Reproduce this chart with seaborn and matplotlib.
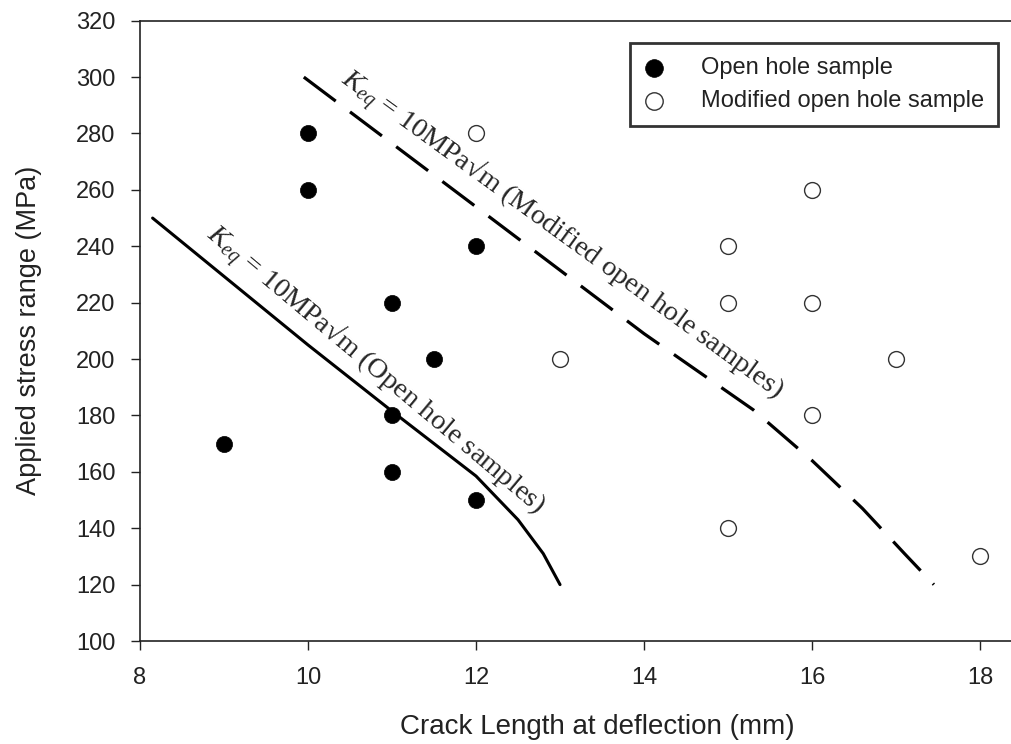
import matplotlib
matplotlib.use("Agg")
import matplotlib.pyplot as plt
import seaborn as sns
import pandas as pd

# ---- data ----
open_x = [9, 10, 10, 11, 11, 11, 11.5, 12, 12]
open_y = [170, 280, 260, 220, 180, 160, 200, 240, 150]
mod_x = [12, 13, 15, 15, 15, 16, 16, 16, 17, 18]
mod_y = [280, 200, 240, 220, 140, 260, 220, 180, 200, 130]

curve_open_x = [8.15, 10.0, 11.0, 11.5, 12.0, 12.5, 12.8, 13.0]
curve_open_y = [250, 205, 181.5, 170, 158.5, 143, 131, 120]
curve_mod_x = [9.95, 12.0, 14.0, 15.3, 16.0, 16.6, 17.1, 17.45]
curve_mod_y = [300, 254, 209, 182, 164, 147, 131, 120]

x_ticks = [8, 10, 12, 14, 16, 18]
y_ticks = list(range(100, 321, 20))

label_open = "Open hole sample"
label_mod = "Modified open hole sample"
text_open = r"$K_{eq}$ = 10MPa√m (Open hole samples)"
text_mod = r"$K_{eq}$ = 10MPa√m (Modified open hole samples)"

# ---- style ----
sns.set_theme(style="ticks")
plt.rcParams["font.family"] = ["Liberation Sans", "DejaVu Sans"]
plt.rcParams["mathtext.fontset"] = "custom"
plt.rcParams["mathtext.rm"] = "Liberation Serif"
plt.rcParams["mathtext.it"] = "Liberation Serif:italic"

fig = plt.figure(figsize=(10.12, 7.44), dpi=100)
ax = fig.add_axes([140 / 1012, 1 - 641 / 744, 1 - 140 / 1012, (641 - 20.7) / 744])

df_open = pd.DataFrame({"x": open_x, "y": open_y})
df_mod = pd.DataFrame({"x": mod_x, "y": mod_y})
df_c1 = pd.DataFrame({"x": curve_open_x, "y": curve_open_y})
df_c2 = pd.DataFrame({"x": curve_mod_x, "y": curve_mod_y})

sns.lineplot(data=df_c1, x="x", y="y", ax=ax, color="black", linewidth=2.2,
             sort=False, estimator=None)
sns.lineplot(data=df_c2, x="x", y="y", ax=ax, color="black", linewidth=2.3,
             sort=False, estimator=None, linestyle=(0, (12.5, 5.6)))

sns.scatterplot(data=df_open, x="x", y="y", ax=ax, color="black", s=135,
                edgecolor="black", linewidth=0.5, label=label_open, zorder=3)
sns.scatterplot(data=df_mod, x="x", y="y", ax=ax, facecolor="white", s=130,
                edgecolor="#333333", linewidth=1.0, label=label_mod, zorder=3)

ax.set_xlim(8, 18.38)
ax.set_ylim(100, 320)
ax.set_xticks(x_ticks)
ax.set_yticks(y_ticks)
ax.tick_params(axis="both", direction="out", length=6.5, width=1.0,
               colors="#222222", labelsize=17)
ax.tick_params(axis="x", pad=12)
ax.tick_params(axis="y", pad=11)
for side in ["left", "bottom", "top"]:
    ax.spines[side].set_color("#222222")
    ax.spines[side].set_linewidth(1.2)
ax.spines["right"].set_visible(False)

ax.set_xlabel("Crack Length at deflection (mm)", fontsize=20, color="#222222")
ax.set_ylabel("Applied stress range (MPa)", fontsize=19.5, color="#222222")
ax.xaxis.set_label_coords(0.524, -0.118)
ax.yaxis.set_label_coords(-0.112, 0.5)

ax.text(10.80, 196, text_open, rotation=-40, rotation_mode="anchor",
        ha="center", va="center", fontsize=20.5, family="Liberation Serif")
ax.text(13.03, 244, text_mod, rotation=-36, rotation_mode="anchor",
        ha="center", va="center", fontsize=20.5, family="Liberation Serif")

leg = ax.legend(loc="upper right", bbox_to_anchor=(0.984, 0.964),
                borderaxespad=0, fontsize=17, frameon=True, fancybox=False,
                handletextpad=1.6, labelspacing=0.45, borderpad=0.6,
                handlelength=0.8, markerscale=1.1)
leg.get_frame().set_edgecolor("black")
leg.get_frame().set_linewidth(2.0)
for t in leg.get_texts():
    t.set_color("#222222")

fig.savefig("out.png", dpi=100)
